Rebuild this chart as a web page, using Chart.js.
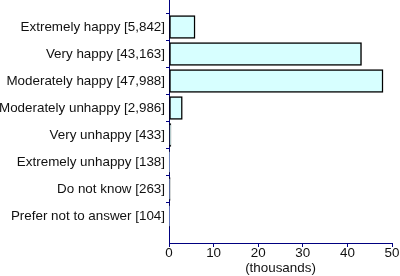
<!DOCTYPE html>
<html>
<head>
<meta charset="utf-8">
<script src="https://cdn.jsdelivr.net/npm/chart.js@4/dist/chart.umd.min.js"></script>
<style>
html,body{margin:0;padding:0;background:#fff;}
#wrap{width:400px;height:276px;position:relative;}
</style>
</head>
<body>
<div id="wrap"><canvas id="c" width="400" height="276"></canvas></div>
<script>
const categories = ["Extremely happy", "Very happy", "Moderately happy", "Moderately unhappy",
  "Very unhappy", "Extremely unhappy", "Do not know", "Prefer not to answer"];
const counts = [5842, 43163, 47988, 2986, 433, 138, 263, 104];
const xTicks = [0, 10, 20, 30, 40, 50];
const xTitle = "(thousands)";

const fmt = n => n.toLocaleString('en-US');
const labels = [""].concat(categories.map((c, i) => c + " [" + fmt(counts[i]) + "]")).concat([""]);
const values = [null].concat(counts.map(v => v / 1000)).concat([null]);

const NAVY = "#000080";
const FONT = {family: "'Liberation Sans', Arial, sans-serif", size: 13.4};

new Chart(document.getElementById('c'), {
  type: 'bar',
  data: {
    labels: labels,
    datasets: [{
      data: values,
      backgroundColor: "#d7ffff",
      borderColor: "#000000",
      borderWidth: 1.5,
      borderSkipped: false,
      barThickness: 23
    }]
  },
  options: {
    indexAxis: 'y',
    responsive: false,
    animation: false,
    layout: {padding: {left: 0, right: 8, top: 0, bottom: 0}},
    plugins: {legend: {display: false}, tooltip: {enabled: false}},
    scales: {
      y: {
        type: 'category',
        offset: false,
        afterFit: s => { s.width = 169; s.paddingTop = 0; s.paddingBottom = 0; },
        grid: {
          drawOnChartArea: false,
          drawTicks: true,
          tickLength: 3,
          tickColor: ctx => (ctx.index === 0 || ctx.index === labels.length - 1) ? 'rgba(0,0,0,0)' : NAVY
        },
        border: {color: NAVY, width: 1},
        ticks: {color: "#111", font: FONT, padding: 1, autoSkip: false}
      },
      x: {
        type: 'linear',
        min: 0, max: 50,
        afterBuildTicks: s => { s.ticks = xTicks.map(v => ({value: v})); },
        afterFit: s => { s.height = 33; },
        grid: {drawOnChartArea: false, drawTicks: true, tickLength: 4, tickColor: NAVY},
        border: {color: NAVY, width: 1},
        ticks: {color: "#111", font: FONT, padding: -2, maxRotation: 0},
        title: {display: true, text: xTitle, color: "#111", font: FONT, padding: {top: 0, bottom: 0}}
      }
    }
  }
});
</script>
</body>
</html>
